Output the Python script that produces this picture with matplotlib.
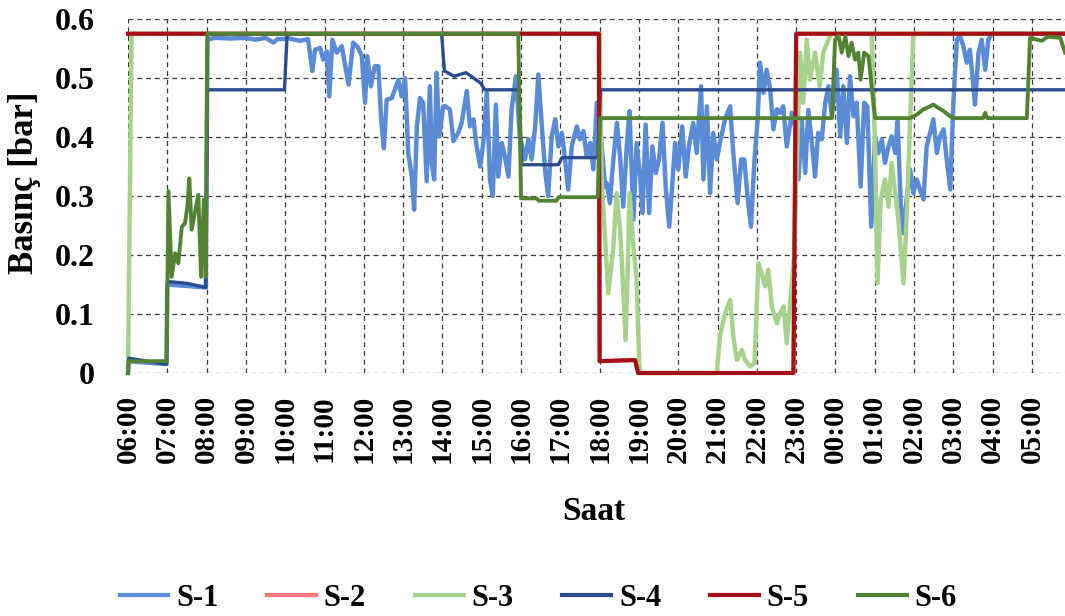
import matplotlib
matplotlib.use("Agg")
import matplotlib.pyplot as plt
from matplotlib.ticker import FixedLocator, MultipleLocator, FuncFormatter
from matplotlib.lines import Line2D

# Time axis: hours from 06:00 of day one (values past 24 belong to the next morning)
hour_ticks = list(range(6, 30))
hour_labels = ["06:00", "07:00", "08:00", "09:00", "10:00", "11:00", "12:00",
               "13:00", "14:00", "15:00", "16:00", "17:00", "18:00", "19:00",
               "20:00", "21:00", "22:00", "23:00", "00:00", "01:00", "02:00",
               "03:00", "04:00", "05:00"]
t_end = 29.84

series_names = ["S-1", "S-2", "S-3", "S-4", "S-5", "S-6"]

# (hour, pressure in bar) pairs for each sensor
s1 = [(6.0, 0.0), (6.02, 0.02), (6.98, 0.015), (7.0, 0.15), (7.98, 0.145),
      (8.02, 0.565), (8.2, 0.568), (8.6, 0.567), (9.0, 0.568), (9.25, 0.565),
      (9.5, 0.568), (9.7, 0.56), (9.8, 0.566), (10.0, 0.566),
      (10.04, 0.568), (10.38, 0.563), (10.58, 0.566), (10.69, 0.512),
      (10.76, 0.548), (10.89, 0.551), (10.97, 0.531), (11.06, 0.545),
      (11.12, 0.469), (11.20, 0.565), (11.31, 0.543), (11.44, 0.554),
      (11.61, 0.489), (11.73, 0.560), (11.86, 0.551), (11.95, 0.537),
      (12.03, 0.458), (12.09, 0.537), (12.18, 0.486), (12.28, 0.520),
      (12.37, 0.520), (12.44, 0.430), (12.51, 0.381), (12.58, 0.463),
      (12.71, 0.466), (12.79, 0.480), (12.88, 0.497), (12.96, 0.469),
      (13.05, 0.500), (13.13, 0.373), (13.22, 0.333), (13.28, 0.277),
      (13.35, 0.418), (13.43, 0.466), (13.51, 0.458), (13.60, 0.325),
      (13.68, 0.486), (13.73, 0.356), (13.79, 0.328), (13.85, 0.509),
      (13.92, 0.401), (14.02, 0.452), (14.07, 0.452), (14.19, 0.447),
      (14.28, 0.393), (14.40, 0.407), (14.49, 0.424), (14.62, 0.478),
      (14.70, 0.418), (14.79, 0.430), (14.87, 0.384), (14.96, 0.350),
      (15.04, 0.390), (15.13, 0.475), (15.21, 0.328), (15.28, 0.300),
      (15.36, 0.455), (15.42, 0.333), (15.51, 0.390), (15.59, 0.367),
      (15.68, 0.333), (15.76, 0.447), (15.87, 0.503), (15.97, 0.401),
      (16.10, 0.362), (16.19, 0.396), (16.27, 0.362), (16.36, 0.418),
      (16.44, 0.506), (16.53, 0.418), (16.61, 0.345), (16.69, 0.300),
      (16.78, 0.401), (16.87, 0.430), (16.95, 0.384), (17.04, 0.407),
      (17.12, 0.362), (17.20, 0.311), (17.29, 0.384), (17.42, 0.418),
      (17.50, 0.396), (17.59, 0.410), (17.67, 0.367), (17.76, 0.390),
      (17.84, 0.345), (17.93, 0.458), (18.01, 0.418), (18.14, 0.316),
      (18.18, 0.322), (18.26, 0.288), (18.35, 0.362), (18.44, 0.424),
      (18.52, 0.367), (18.60, 0.282), (18.69, 0.384), (18.76, 0.444),
      (18.86, 0.260), (18.94, 0.390), (19.03, 0.333), (19.09, 0.271),
      (19.17, 0.421), (19.26, 0.271), (19.34, 0.384), (19.43, 0.339),
      (19.51, 0.362), (19.60, 0.424), (19.68, 0.316), (19.77, 0.248),
      (19.85, 0.322), (19.92, 0.390), (20.00, 0.345), (20.10, 0.418),
      (20.19, 0.333), (20.27, 0.384), (20.38, 0.424), (20.47, 0.373),
      (20.58, 0.486), (20.64, 0.328), (20.73, 0.452), (20.81, 0.305),
      (20.89, 0.407), (20.98, 0.362), (21.06, 0.390), (21.19, 0.430),
      (21.32, 0.452), (21.40, 0.373), (21.51, 0.288), (21.60, 0.362),
      (21.68, 0.362), (21.77, 0.294), (21.85, 0.248), (21.94, 0.362),
      (22.02, 0.430), (22.08, 0.526), (22.17, 0.475), (22.25, 0.514),
      (22.34, 0.480), (22.42, 0.413), (22.51, 0.447), (22.59, 0.441),
      (22.67, 0.452), (22.76, 0.384), (22.89, 0.441), (22.97, 0.418),
      (23.06, 0.328), (23.14, 0.430), (23.23, 0.339), (23.31, 0.446),
      (23.40, 0.390), (23.48, 0.333), (23.56, 0.407), (23.65, 0.396),
      (23.74, 0.458), (23.82, 0.486), (23.91, 0.435), (24.03, 0.514),
      (24.12, 0.401), (24.20, 0.486), (24.29, 0.390), (24.37, 0.503),
      (24.46, 0.435), (24.54, 0.458), (24.64, 0.316), (24.73, 0.458),
      (24.81, 0.452), (24.91, 0.248), (25.01, 0.401), (25.09, 0.373),
      (25.18, 0.396), (25.26, 0.356), (25.35, 0.384), (25.43, 0.401),
      (25.52, 0.373), (25.58, 0.427), (25.66, 0.288), (25.73, 0.237),
      (25.81, 0.294), (25.90, 0.345), (25.98, 0.305), (26.07, 0.328),
      (26.15, 0.311), (26.24, 0.294), (26.32, 0.384), (26.41, 0.407),
      (26.49, 0.430), (26.58, 0.373), (26.66, 0.401), (26.75, 0.413),
      (26.83, 0.362), (26.92, 0.311), (27.00, 0.458), (27.09, 0.565),
      (27.17, 0.571), (27.25, 0.555), (27.34, 0.526), (27.42, 0.548),
      (27.51, 0.486), (27.55, 0.455), (27.64, 0.543), (27.72, 0.565),
      (27.81, 0.514), (27.89, 0.565), (27.98, 0.575), (29.84, 0.575)]

s2 = [(6.0, 0.575), (17.98, 0.575), (18.0, 0.02), (18.9, 0.022),
      (18.98, 0.0), (22.93, 0.0), (23.0, 0.575), (29.84, 0.575)]

s3 = [(6.0, 0.0), (6.09, 0.575), (18.0, 0.575), (18.05, 0.33),
      (18.10, 0.271), (18.22, 0.135), (18.35, 0.214), (18.43, 0.305),
      (18.52, 0.243), (18.60, 0.141), (18.66, 0.056), (18.73, 0.214),
      (18.76, 0.305), (18.86, 0.214), (18.94, 0.158), (19.01, 0.01),
      (19.05, 0.0), (20.98, 0.0), (21.06, 0.062), (21.19, 0.101),
      (21.32, 0.124), (21.40, 0.062), (21.49, 0.022), (21.62, 0.039),
      (21.70, 0.022), (21.83, 0.011), (21.94, 0.016), (22.04, 0.186),
      (22.12, 0.169), (22.21, 0.147), (22.29, 0.175), (22.38, 0.113),
      (22.51, 0.084), (22.59, 0.101), (22.68, 0.113), (22.76, 0.05),
      (22.84, 0.113), (22.95, 0.20), (23.10, 0.543), (23.18, 0.458),
      (23.27, 0.565), (23.35, 0.497), (23.48, 0.543), (23.60, 0.486),
      (23.69, 0.543), (23.82, 0.565), (23.90, 0.575), (24.92, 0.575),
      (25.01, 0.373), (25.07, 0.152), (25.15, 0.294), (25.26, 0.328),
      (25.35, 0.282), (25.43, 0.356), (25.52, 0.305), (25.60, 0.260),
      (25.73, 0.152), (25.81, 0.260), (25.90, 0.430), (25.98, 0.571),
      (26.02, 0.575), (29.84, 0.575)]

s4 = [(6.0, 0.0), (6.02, 0.025), (6.98, 0.015), (7.0, 0.155), (7.5, 0.152),
      (7.98, 0.145), (8.02, 0.48), (9.98, 0.48), (10.05, 0.575),
      (13.98, 0.575), (14.05, 0.512), (14.3, 0.503), (14.6, 0.509),
      (14.96, 0.492), (15.08, 0.48), (15.95, 0.48), (16.02, 0.353),
      (16.95, 0.353), (17.04, 0.365), (17.95, 0.365), (18.02, 0.48),
      (29.84, 0.48)]

s5 = [(6.0, 0.575), (17.98, 0.575), (18.0, 0.02), (18.9, 0.022),
      (18.98, 0.0), (22.93, 0.0), (23.0, 0.575), (29.84, 0.575)]

s6 = [(6.0, 0.0), (6.02, 0.02), (6.98, 0.02), (7.03, 0.308), (7.11, 0.163),
      (7.20, 0.203), (7.28, 0.186), (7.37, 0.248), (7.45, 0.254),
      (7.51, 0.282), (7.56, 0.33), (7.62, 0.243), (7.70, 0.271),
      (7.79, 0.302), (7.86, 0.163), (7.93, 0.294), (7.98, 0.163),
      (8.02, 0.575), (15.93, 0.575), (16.0, 0.296), (16.4, 0.296),
      (16.45, 0.292), (16.9, 0.292), (16.96, 0.298), (17.95, 0.298),
      (18.01, 0.432), (23.91, 0.432), (23.99, 0.565), (24.08, 0.571),
      (24.16, 0.543), (24.25, 0.571), (24.33, 0.537), (24.41, 0.560),
      (24.50, 0.531), (24.58, 0.543), (24.64, 0.497), (24.73, 0.543),
      (24.84, 0.537), (24.92, 0.486), (25.01, 0.432), (25.90, 0.432),
      (26.07, 0.438), (26.24, 0.447), (26.41, 0.452), (26.49, 0.455),
      (26.62, 0.449), (26.75, 0.444), (26.92, 0.435), (27.0, 0.432),
      (27.76, 0.432), (27.81, 0.441), (27.86, 0.432), (28.87, 0.432),
      (28.95, 0.568), (29.25, 0.563), (29.4, 0.570), (29.72, 0.568),
      (29.84, 0.543)]

series_data = [s1, s2, s3, s4, s5, s6]
colors = ["#5B8BD6", "#FF7575", "#A9D18E", "#2B4C8C", "#A50F15", "#548235"]
widths = [3.2, 2.8, 3.2, 2.4, 3.0, 2.8]

plt.rcParams["font.family"] = ["Liberation Serif", "DejaVu Serif"]
plt.rcParams["font.weight"] = "bold"

fig = plt.figure(figsize=(10.65, 6.16), dpi=100)
ax = fig.add_axes([128 / 1065, 1 - 373 / 616, 1 - 128 / 1065, (373 - 19) / 616])

for pts, col, lw in zip(series_data, colors, widths):
    xs = [p[0] for p in pts]
    ys = [p[1] for p in pts]
    ax.plot(xs, ys, color=col, lw=lw, solid_joinstyle="round", clip_on=False, zorder=3)

ax.set_xlim(6, t_end)
ax.set_ylim(0, 0.6)
ax.xaxis.set_major_locator(FixedLocator(hour_ticks))
ax.set_xticklabels(hour_labels, rotation=90, fontsize=21, fontweight="bold")
ax.yaxis.set_major_locator(MultipleLocator(0.1))
ax.yaxis.set_major_formatter(FuncFormatter(lambda v, _: "0" if abs(v) < 1e-9 else f"{v:.1f}"))
ax.tick_params(axis="both", length=0)
ax.tick_params(axis="x", pad=16)
ax.tick_params(axis="y", pad=24, labelsize=23)

for sp in ax.spines.values():
    sp.set_visible(False)
ax.grid(True, color="#3a3a3a", linestyle=(0, (4, 3)), linewidth=0.9, zorder=0)
ax.set_axisbelow(True)

fig.text(25 / 1065, 1 - 183 / 616, "Basınç [bar]", rotation=90, ha="center",
         va="center", fontsize=25, fontweight="bold")
fig.text(594 / 1065, 1 - 512 / 616, "Saat", ha="center", va="center",
         fontsize=24, fontweight="bold")

handles = [Line2D([], [], color=c, lw=3) for c in colors]
fig.legend(handles, series_names, ncol=6, loc="center",
           bbox_to_anchor=(538 / 1065, 1 - 598 / 616), frameon=False,
           prop={"size": 22, "weight": "bold"}, handlelength=1.6,
           handletextpad=0.25, columnspacing=1.6)

fig.savefig("out.png", dpi=100)
